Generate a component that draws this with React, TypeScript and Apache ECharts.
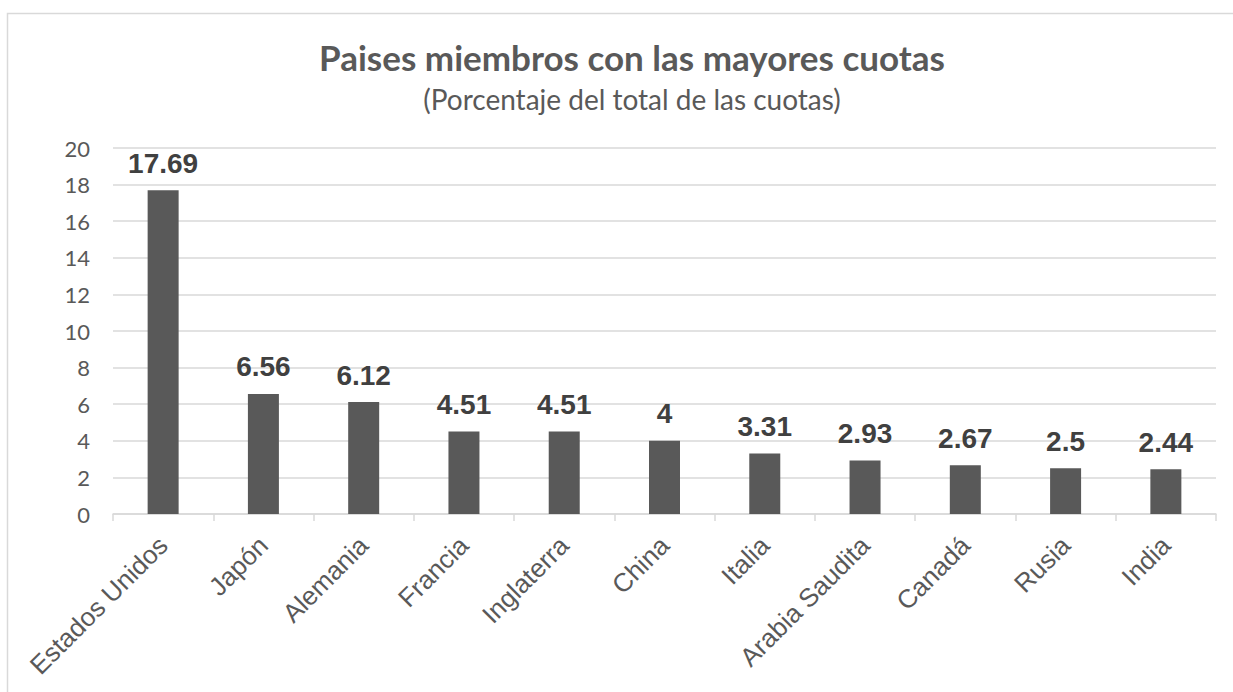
import React, { useEffect, useRef } from "react";
import * as echarts from "echarts";

const TITLE = "Paises miembros con las mayores cuotas";
const SUBTITLE = "(Porcentaje del total de las cuotas)";
const categories = ["Estados Unidos", "Japón", "Alemania", "Francia", "Inglaterra", "China", "Italia", "Arabia Saudita", "Canadá", "Rusia", "India"];
const quotas = [17.69, 6.56, 6.12, 4.51, 4.51, 4, 3.31, 2.93, 2.67, 2.5, 2.44];
const yMin = 0;
const yMax = 20;
const yStep = 2;

export default function App() {
  const ref = useRef<HTMLDivElement>(null);
  useEffect(() => {
    if (!ref.current) return;
    const chart = echarts.init(ref.current, null, { renderer: "svg" });
    chart.setOption({
      animation: false,
      backgroundColor: "#ffffff",
      title: [
        {
          text: TITLE,
          left: 627,
          textAlign: "center",
          top: 34,
          textStyle: { fontFamily: "Lato", fontWeight: "bold", fontSize: 35, color: "#595959" },
        },
        {
          text: SUBTITLE,
          left: 627,
          textAlign: "center",
          top: 80,
          textStyle: { fontFamily: "Lato", fontWeight: "normal", fontSize: 28, color: "#595959" },
        },
      ],
      graphic: [
        {
          type: "rect",
          shape: { x: 7.5, y: 13.5, width: 1240, height: 700 },
          style: { fill: "none", stroke: "#d9d9d9", lineWidth: 1.5 },
          silent: true,
        },
      ],
      grid: { left: 113, right: 17, top: 148, bottom: 178, containLabel: false },
      xAxis: {
        type: "category",
        data: categories,
        axisLine: { show: true, lineStyle: { color: "#d9d9d9", width: 1.5 } },
        axisTick: { show: true, alignWithLabel: false, length: 7, lineStyle: { color: "#d9d9d9", width: 1.5 } },
        axisLabel: {
          interval: 0,
          rotate: 45,
          margin: 27,
          fontFamily: "Liberation Sans",
          fontSize: 26,
          color: "#595959",
        },
      },
      yAxis: {
        type: "value",
        min: yMin,
        max: yMax,
        interval: yStep,
        axisLine: { show: false },
        axisTick: { show: false },
        splitLine: { show: true, lineStyle: { color: "#d9d9d9", width: 1.5 } },
        axisLabel: { margin: 23, fontFamily: "Lato", fontSize: 22, color: "#595959" },
      },
      series: [
        {
          type: "bar",
          data: quotas,
          barWidth: 31,
          itemStyle: { color: "#595959" },
          label: {
            show: true,
            position: "top",
            distance: 13,
            fontFamily: "Liberation Sans",
            fontWeight: "bold",
            fontSize: 28,
            color: "#404040",
          },
        },
      ],
    });
    return () => chart.dispose();
  }, []);
  return <div ref={ref} style={{ position: "absolute", left: 0, top: 0, width: 1233, height: 692 }} />;
}
